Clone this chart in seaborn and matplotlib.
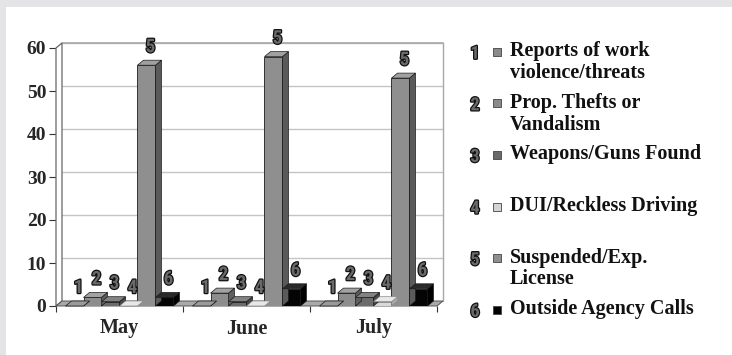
import numpy as np
import pandas as pd
import matplotlib
matplotlib.use("Agg")
import matplotlib.pyplot as plt
import matplotlib.patheffects as pe
from matplotlib.patches import Polygon, Rectangle
from matplotlib import font_manager
import seaborn as sns

# ---- data -------------------------------------------------------------
months = ["May", "June", "July"]
series_ids = ["1", "2", "3", "4", "5", "6"]
series_names = [
    "Reports of work\nviolence/threats",
    "Prop. Thefts or\nVandalism",
    "Weapons/Guns Found",
    "DUI/Reckless Driving",
    "Suspended/Exp.\nLicense",
    "Outside Agency Calls",
]
work_violence = [0, 0, 0]
prop_thefts = [2, 3, 3]
weapons_found = [1, 1, 2]
dui_reckless = [0, 0, 1]
suspended_license = [56, 58, 53]
outside_calls = [2, 4, 4]
y_ticks = [0, 10, 20, 30, 40, 50, 60]

values = [work_violence, prop_thefts, weapons_found,
          dui_reckless, suspended_license, outside_calls]

front_colors = ["#7e7e7e", "#8d8d8d", "#6c6c6c", "#d8d8d8", "#8f8f8f", "#050505"]
top_colors = ["#9a9a9a", "#a2a2a2", "#828282", "#e8e8e8", "#a0a0a0", "#2a2a2a"]
side_colors = ["#555555", "#5e5e5e", "#474747", "#a8a8a8", "#5a5a5a", "#000000"]
edge_colors = ["#1a1a1a", "#1a1a1a", "#1a1a1a", "#8a8a8a", "#1a1a1a", "#1a1a1a"]
legend_colors = ["#8a8a8a", "#8a8a8a", "#6a6a6a", "#d4d4d4", "#8f8f8f", "#000000"]

df = pd.DataFrame({
    "month": months * len(series_ids),
    "series": np.repeat(series_ids, len(months)),
    "count": np.concatenate(values),
})

# condensed face for the series numbers
installed = {f.name for f in font_manager.fontManager.ttflist}
num_family = [f for f in ["Liberation Sans Narrow", "DejaVu Sans Condensed",
                          "Roboto Condensed", "Open Sans Condensed"] if f in installed]
num_family = num_family + ["DejaVu Sans"]
num_effect = [pe.withStroke(linewidth=1.8, foreground="#111111")]

# ---- figure -----------------------------------------------------------
W, H = 732, 355
sns.set_theme(style="white")
plt.rcParams["font.family"] = ["Liberation Serif", "DejaVu Serif"]
fig = plt.figure(figsize=(W / 100, H / 100), dpi=100, facecolor="white")

# grey frame strips along the top and left edges
fig.patches.append(Rectangle((0, 1 - 7 / H), 1, 7 / H, transform=fig.transFigure,
                             facecolor="#e4e4e6", edgecolor="none", zorder=0))
fig.patches.append(Rectangle((0, 0), 6 / W, 1, transform=fig.transFigure,
                             facecolor="#e4e4e6", edgecolor="none", zorder=0))

ax_l, ax_r, ax_t, ax_b = 56, 437, 48, 306
ax = fig.add_axes([ax_l / W, 1 - ax_b / H, (ax_r - ax_l) / W, (ax_b - ax_t) / H])
ax.set_facecolor("none")
for s in ax.spines.values():
    s.set_visible(False)

sns.barplot(data=df, x="month", y="count", hue="series", order=months,
            hue_order=series_ids, palette=front_colors, saturation=1,
            width=0.85, gap=0, edgecolor="#1a1a1a", linewidth=0.6,
            legend=False, ax=ax, zorder=3)

ax.set_xlim(-0.5, 2.5)
ax.set_ylim(0, 60)

# depth of the pseudo-3D extrusion, converted from pixels to data units
dx_px, dy_px = 6, 5
dxd = dx_px / ((ax_r - ax_l) / 3.0)
dyd = dy_px / ((ax_b - ax_t) / 60.0)
x0, x1 = ax.get_xlim()

# back wall gridlines and frame
for yv in y_ticks[1:]:
    ax.plot([x0 + dxd, x1 + dxd], [yv + dyd, yv + dyd], color="#c4c4c4",
            lw=1.0, zorder=1, clip_on=False)
ax.plot([x0 + dxd, x1 + dxd], [60 + dyd, 60 + dyd], color="#a8a8a8", lw=1.2,
        zorder=1, clip_on=False)
ax.plot([x1 + dxd, x1 + dxd], [dyd, 60 + dyd], color="#a8a8a8", lw=1.0,
        zorder=1, clip_on=False)
# left wall
ax.add_patch(Polygon([(x0, 0), (x0 + dxd, dyd), (x0 + dxd, 60 + dyd), (x0, 60)],
                     closed=True, facecolor="white", edgecolor="#666666",
                     lw=0.9, zorder=2, clip_on=False))
# floor
ax.add_patch(Polygon([(x0, 0), (x1, 0), (x1 + dxd, dyd), (x0 + dxd, dyd)],
                     closed=True, facecolor="#a9a9a9", edgecolor="#555555",
                     lw=0.7, zorder=2, clip_on=False))

# extrude each bar: top face and right side face, number above
for i, cont in enumerate(ax.containers):
    for bar in cont:
        bar.set_edgecolor(edge_colors[i])
        bx, bw, bh = bar.get_x(), bar.get_width(), bar.get_height()
        top = Polygon([(bx, bh), (bx + bw, bh), (bx + bw + dxd, bh + dyd),
                       (bx + dxd, bh + dyd)], closed=True,
                      facecolor=top_colors[i], edgecolor=edge_colors[i], lw=0.5,
                      zorder=3.5, clip_on=False)
        side = Polygon([(bx + bw, 0), (bx + bw + dxd, dyd),
                        (bx + bw + dxd, bh + dyd), (bx + bw, bh)], closed=True,
                       facecolor=side_colors[i], edgecolor=edge_colors[i], lw=0.5,
                       zorder=3.4, clip_on=False)
        ax.add_patch(side)
        ax.add_patch(top)
        ax.annotate(series_ids[i], xy=(bx + bw / 2, bh), xytext=(4, 9),
                    textcoords="offset pixels", ha="center", va="bottom",
                    fontsize=13.5, fontweight="bold", color="#6a6a6a",
                    family=num_family, path_effects=num_effect,
                    zorder=6, annotation_clip=False)

# axes ticks and labels
ax.set_yticks(y_ticks)
ax.set_yticklabels([str(v) for v in y_ticks], fontsize=14, fontweight="bold")
ax.tick_params(axis="y", length=5, width=0.8, color="#333333", pad=2, left=True)
ax.set_xticks(range(len(months)))
ax.set_xticklabels(months, fontsize=14.5, fontweight="bold")
ax.set_xticks([-0.5, 0.5, 1.5, 2.5], minor=True)
ax.tick_params(axis="x", which="major", length=0, pad=9)
ax.tick_params(axis="x", which="minor", length=4, width=0.8, color="#333333",
               bottom=True)
ax.set_xlabel("")
ax.set_ylabel("")
ax.grid(False)

# legend column
slot0, slot = 51.7, 51.6
for k, (sid, name) in enumerate(zip(series_ids, series_names)):
    yc = slot0 + slot * k
    fig.text(475 / W, 1 - (yc + 2) / H, sid, ha="center", va="center",
             fontsize=13, fontweight="bold", color="#6a6a6a",
             family=num_family, path_effects=num_effect)
    fig.patches.append(Rectangle((493 / W, 1 - (yc + 4) / H), 8 / W, 8 / H,
                                 transform=fig.transFigure,
                                 facecolor=legend_colors[k], edgecolor="#444444",
                                 lw=0.6))
    fig.text(510 / W, 1 - (yc - 10.5) / H, name, ha="left", va="top",
             fontsize=14.5, fontweight="bold", color="#111111",
             linespacing=1.12)

fig.savefig("out.png", dpi=100, facecolor=fig.get_facecolor())
